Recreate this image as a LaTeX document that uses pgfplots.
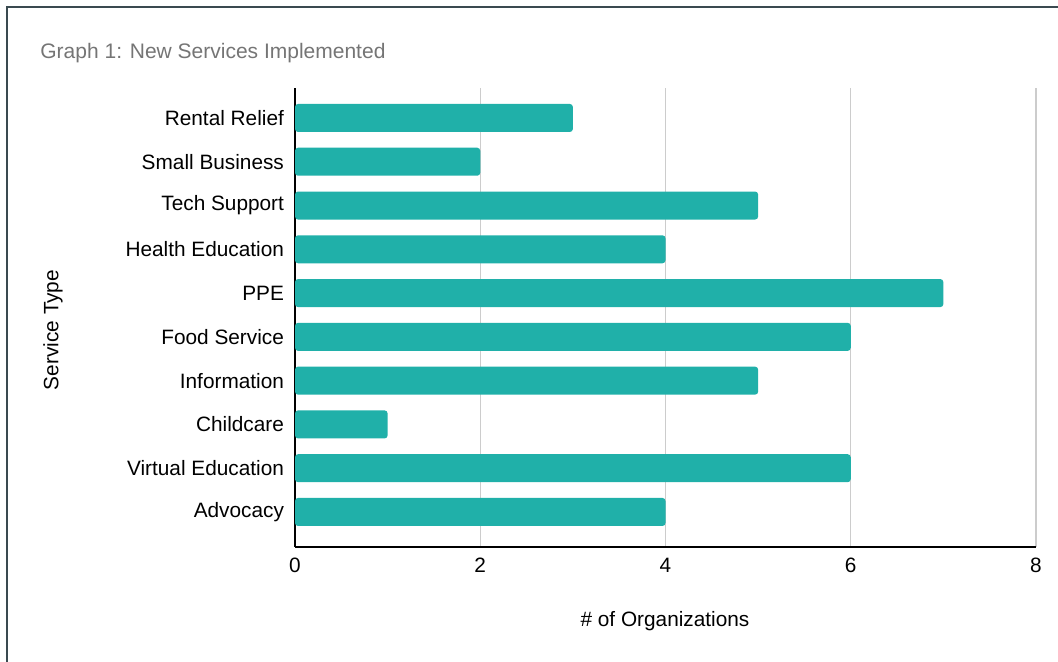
\documentclass[border=0pt]{standalone}
\usepackage{fontspec}
\setmainfont{Liberation Sans}
\usepackage{pgfplots}
\pgfplotsset{compat=1.18}
\definecolor{barc}{HTML}{20B0A9}
\definecolor{frame}{HTML}{3A4A50}
\definecolor{titlec}{HTML}{757575}
\definecolor{gridc}{HTML}{CCCCCC}
\begin{document}
\begin{tikzpicture}
\useasboundingbox (0,0) rectangle (529pt,331pt);
\draw[frame, line width=1pt] (3.5pt,0) -- (3.5pt,327.5pt) -- (529pt,327.5pt);
\node[anchor=west, text=titlec, font=\fontsize{10.5}{12}\selectfont, inner sep=0pt] at (20pt,304.5pt) {Graph 1: New Services Implemented};
\node[font=\fontsize{10.4}{12}\selectfont, inner sep=0pt] at (332.5pt,20.5pt) {\# of Organizations};
\node[font=\fontsize{10.4}{12}\selectfont, inner sep=0pt, rotate=90] at (26.5pt,166pt) {Service Type};
\begin{axis}[
  at={(147.5pt,57.5pt)}, anchor=south west,
  scale only axis, width=370.5pt, height=229.5pt,
  xbar, bar width=14pt,
  xmin=0, xmax=8, ymin=-0.8, ymax=9.685,
  xtick={0,2,4,6,8},
  ytick={0,...,9},
  yticklabels={Advocacy,Virtual Education,Childcare,Information,Food Service,PPE,Health Education,Tech Support,Small Business,Rental Relief},
  axis x line=bottom, axis y line=left,
  axis line style={-, black, line width=0.75pt},
  major tick length=0pt,
  xmajorgrids, grid style={gridc, line width=0.6pt},
  tick label style={font=\fontsize{10.4}{12}\selectfont},
  /pgf/number format/assume math mode=true,
  xticklabel style={yshift=-2pt},
  yticklabel style={xshift=-2pt},
  clip=false,
]
\addplot[draw=none, fill=barc, rounded corners=1.5pt] coordinates {
(4,0) (6,1) (1,2) (5,3) (6,4) (7,5) (4,6) (5,7) (2,8) (3,9)
};
\end{axis}
\end{tikzpicture}
\end{document}
